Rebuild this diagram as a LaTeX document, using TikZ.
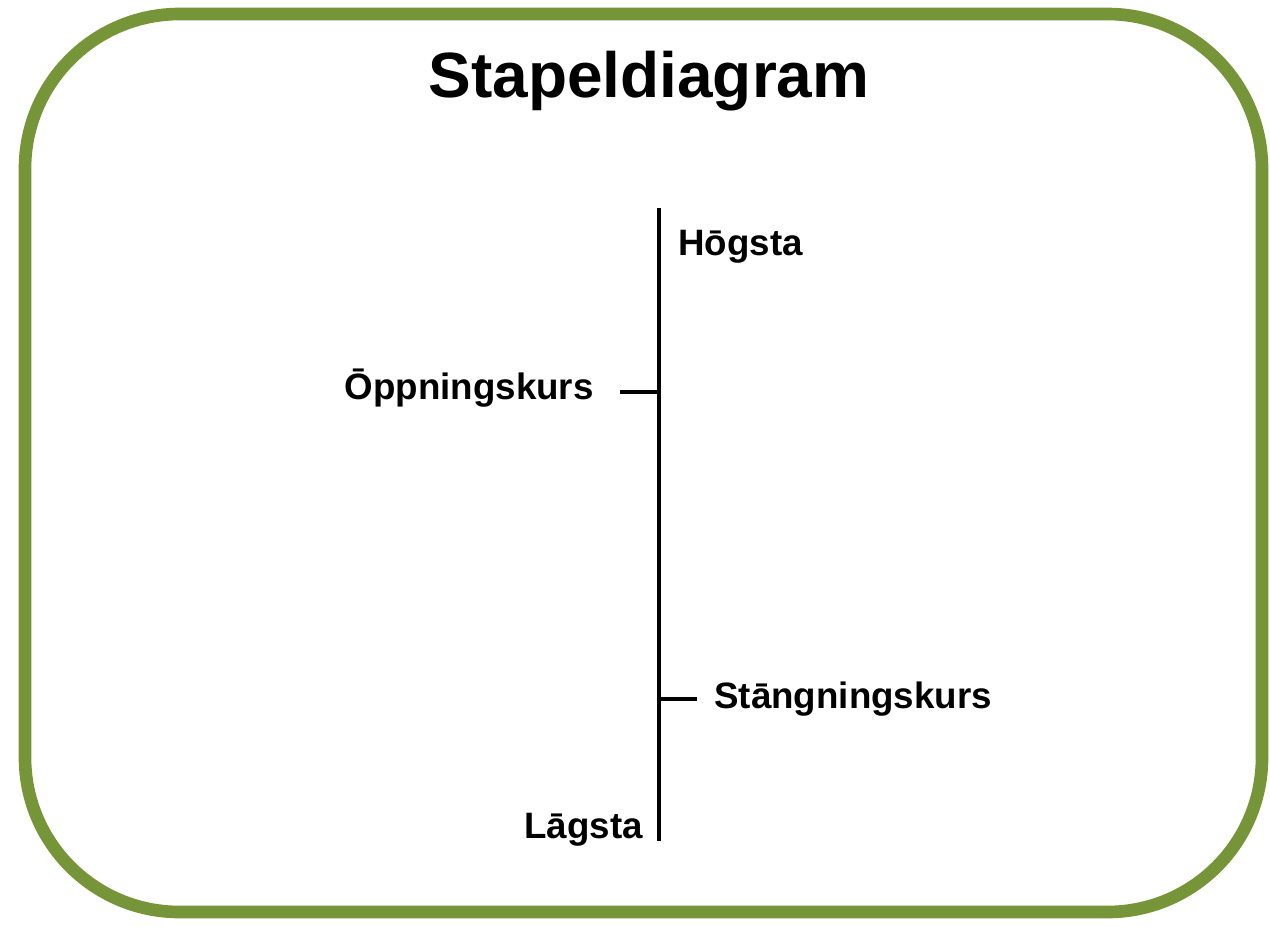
\documentclass[tikz,border=0pt]{standalone}
\usepackage{fontspec}
\setmainfont{Liberation Sans}
\definecolor{frame}{RGB}{118,148,56}
\tikzset{
  lbl/.style={inner sep=0pt, font=\bfseries\fontsize{20.9pt}{24pt}\selectfont},
  ttl/.style={inner sep=0pt, font=\bfseries\fontsize{36.4pt}{42pt}\selectfont},
  bar/.style={line width=2.5pt, black},
}
\begin{document}
\begin{tikzpicture}[x=0.02cm,y=-0.02cm]
\useasboundingbox (0,0) rectangle (1270,926);
\fill[white] (0,0) rectangle (1270,926);
\draw[frame, line width=7.2pt, rounded corners=88pt] (25,14) rectangle (1262,912);
\node[ttl, anchor=base] (title) at (649,97) {Stapeldiagram};
\coordinate (top) at (659,208);
\coordinate (bot) at (659,841);
\coordinate (open) at (659,392);
\coordinate (openL) at (620,392);
\coordinate (close) at (659,699);
\coordinate (closeR) at (697,699);
\draw[bar] (top) -- (bot);
\draw[bar] (openL) -- (open);
\draw[bar] (close) -- (closeR);
\node[lbl, anchor=base west] (hi) at (678,255) {Hōgsta};
\node[lbl, anchor=base east] (op) at (594,399) {Ōppningskurs};
\node[lbl, anchor=base west] (cl) at (714,708) {Stāngningskurs};
\node[lbl, anchor=base east] (lo) at (643,838) {Lāgsta};
\end{tikzpicture}
\end{document}
